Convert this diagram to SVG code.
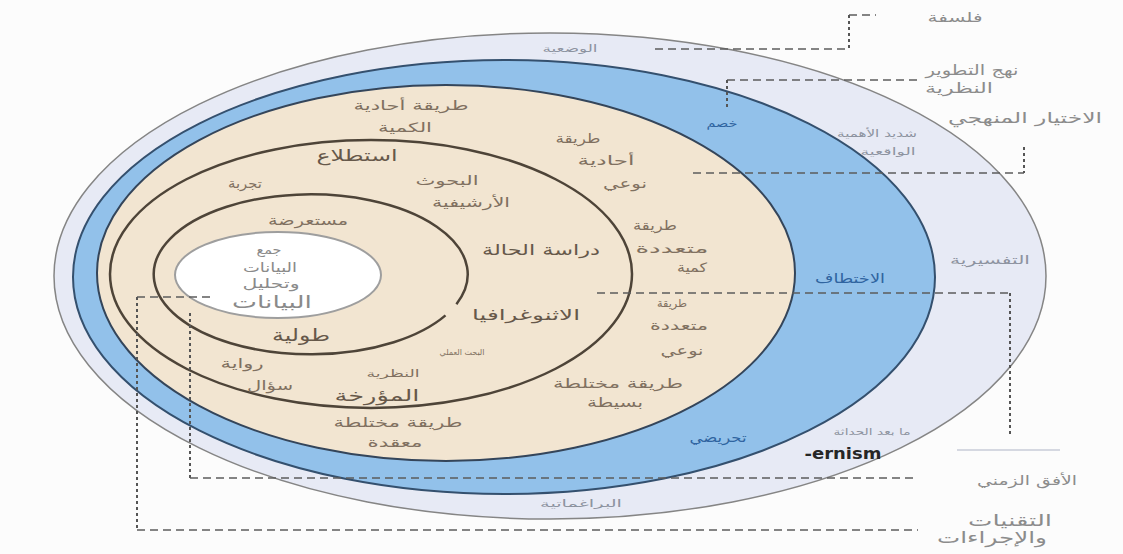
<svg xmlns="http://www.w3.org/2000/svg" width="1123" height="554" viewBox="0 0 1123 554">
  <style>
    text { font-family: "DejaVu Sans", "Noto Sans", sans-serif; text-anchor: middle; dominant-baseline: central; }
    .b  { fill: #807060; font-size: 13px; }
    .bb { fill: #66584a; font-size: 16px; }
    .c  { fill: #8a8a8a; font-size: 13px; }
    .bl { fill: #2f64a0; font-size: 13px; }
    .o  { fill: #8d93a0; font-size: 10px; }
    .r  { fill: #8c8c8c; font-size: 14px; }
    .dash { fill: none; stroke: #5c5c5c; stroke-width: 1.5; stroke-dasharray: 8 5; }
    .dot  { fill: none; stroke: #555; stroke-width: 2; stroke-dasharray: 3 3; }
  </style>

  <rect width="1123" height="554" fill="#fcfcfc"/>

  <!-- philosophies -->
  <g id="ring-philosophy">
    <ellipse cx="550" cy="276" rx="496" ry="243" fill="#e7eaf5" stroke="#858585" stroke-width="1.5"/>
  </g>

  <!-- approach to theory development -->
  <g id="ring-approach">
    <ellipse cx="504" cy="277" rx="431" ry="217" fill="#92c1ea" stroke="#34506e" stroke-width="2"/>
  </g>

  <!-- methodological choice -->
  <g id="ring-choice">
    <ellipse cx="446" cy="273" rx="349" ry="188" fill="#f2e5d1" stroke="#34455a" stroke-width="2"/>
  </g>

  <!-- strategies -->
  <g id="ring-strategy">
    <ellipse cx="371" cy="274" rx="261" ry="134" fill="none" stroke="#4e4438" stroke-width="2.5"/>
  </g>

  <!-- time horizon (open at the right) -->
  <g id="ring-time">
    <path d="M445.5,315.4 A157,80 0 1 1 456.4,304.2" fill="none" stroke="#4e4438" stroke-width="2.5"/>
  </g>

  <!-- techniques and procedures -->
  <g id="core">
    <ellipse cx="278" cy="275" rx="103" ry="43" fill="#ffffff" stroke="#9e9e9e" stroke-width="2"/>
  </g>

  <g id="connectors">
    <line class="dash" x1="849" y1="15" x2="876" y2="15"/>
    <line class="dot"  x1="849" y1="15" x2="849" y2="49"/>
    <line class="dash" x1="655" y1="49" x2="849" y2="49"/>

    <line class="dash" x1="727" y1="80" x2="918" y2="80"/>
    <line class="dot"  x1="727" y1="80" x2="727" y2="108"/>

    <line class="dash" x1="693" y1="173" x2="1024" y2="173"/>
    <line class="dot"  x1="1024" y1="147" x2="1024" y2="173"/>

    <line class="dash" x1="597" y1="293" x2="1010" y2="293"/>
    <line class="dot"  x1="1010" y1="293" x2="1010" y2="437"/>

    <line class="dash" x1="137" y1="297" x2="214" y2="297"/>
    <line class="dot"  x1="137" y1="297" x2="137" y2="530"/>
    <line class="dash" x1="137" y1="530" x2="918" y2="530"/>

    <line class="dot"  x1="190" y1="313" x2="190" y2="478"/>
    <line class="dash" x1="190" y1="478" x2="918" y2="478"/>

    <line x1="957" y1="450" x2="1060" y2="450" stroke="#c8ccd8" stroke-width="1.5"/>
  </g>

  <g id="labels-choice">
    <text class="b" x="411" y="105" textLength="115" lengthAdjust="spacingAndGlyphs">طريقة أحادية</text>
    <text class="b" x="405" y="127" textLength="54" lengthAdjust="spacingAndGlyphs">الكمية</text>
    <text class="b" x="578" y="138" textLength="45" lengthAdjust="spacingAndGlyphs">طريقة</text>
    <text class="b" x="606" y="160" textLength="57" lengthAdjust="spacingAndGlyphs">أحادية</text>
    <text class="b" x="625" y="183" textLength="44" lengthAdjust="spacingAndGlyphs">نوعي</text>
    <text class="b" x="655" y="225" textLength="44" lengthAdjust="spacingAndGlyphs">طريقة</text>
    <text class="b" x="672" y="248" textLength="73" lengthAdjust="spacingAndGlyphs">متعددة</text>
    <text class="b" x="692" y="267" textLength="30" lengthAdjust="spacingAndGlyphs">كمية</text>
    <text class="b" x="672" y="303" style="font-size:11px" textLength="30" lengthAdjust="spacingAndGlyphs">طريقة</text>
    <text class="b" x="679" y="325" textLength="58" lengthAdjust="spacingAndGlyphs">متعددة</text>
    <text class="b" x="682" y="350" textLength="43" lengthAdjust="spacingAndGlyphs">نوعي</text>
    <text class="b" x="618" y="383" textLength="130" lengthAdjust="spacingAndGlyphs">طريقة مختلطة</text>
    <text class="b" x="615" y="402" textLength="56" lengthAdjust="spacingAndGlyphs">بسيطة</text>
    <text class="b" x="398" y="422" textLength="129" lengthAdjust="spacingAndGlyphs">طريقة مختلطة</text>
    <text class="b" x="395" y="442" textLength="55" lengthAdjust="spacingAndGlyphs">معقدة</text>
  </g>

  <g id="labels-strategy">
    <text class="bb" x="357" y="155" textLength="81" lengthAdjust="spacingAndGlyphs">استطلاع</text>
    <text class="b" x="245" y="183" textLength="34" lengthAdjust="spacingAndGlyphs">تجربة</text>
    <text class="b" x="447" y="180" textLength="63" lengthAdjust="spacingAndGlyphs">البحوث</text>
    <text class="b" x="471" y="202" textLength="78" lengthAdjust="spacingAndGlyphs">الأرشيفية</text>
    <text class="bb" x="541" y="250" style="font-size:15px" textLength="118" lengthAdjust="spacingAndGlyphs">دراسة الحالة</text>
    <text class="bb" x="526" y="315" style="font-size:15px" textLength="108" lengthAdjust="spacingAndGlyphs">الاثنوغرافيا</text>
    <text class="b" x="462" y="352" style="font-size:8px" textLength="45" lengthAdjust="spacingAndGlyphs">البحث العملي</text>
    <text class="b" x="242" y="363" textLength="43" lengthAdjust="spacingAndGlyphs">رواية</text>
    <text class="b" x="270" y="385" textLength="46" lengthAdjust="spacingAndGlyphs">سؤال</text>
    <text class="b" x="393" y="373" style="font-size:10px" textLength="53" lengthAdjust="spacingAndGlyphs">النظرية</text>
    <text class="bb" x="377" y="395" textLength="85" lengthAdjust="spacingAndGlyphs">المؤرخة</text>
  </g>

  <g id="labels-time">
    <text class="b" x="308" y="220" textLength="80" lengthAdjust="spacingAndGlyphs">مستعرضة</text>
    <text class="bb" x="301" y="335" style="font-size:17px" textLength="58" lengthAdjust="spacingAndGlyphs">طولية</text>
  </g>

  <g id="labels-core">
    <text class="c" x="269" y="250" style="font-size:12px" textLength="25" lengthAdjust="spacingAndGlyphs">جمع</text>
    <text class="c" x="270" y="267" textLength="54" lengthAdjust="spacingAndGlyphs">البيانات</text>
    <text class="c" x="271" y="283" textLength="57" lengthAdjust="spacingAndGlyphs">وتحليل</text>
    <text class="c" x="272" y="302" style="font-size:17px" textLength="80" lengthAdjust="spacingAndGlyphs">البيانات</text>
  </g>

  <g id="labels-approach">
    <text class="bl" x="722" y="123" style="font-size:11px" textLength="31" lengthAdjust="spacingAndGlyphs">خصم</text>
    <text class="bl" x="850" y="278" textLength="70" lengthAdjust="spacingAndGlyphs">الاختطاف</text>
    <text class="bl" x="718" y="437" textLength="57" lengthAdjust="spacingAndGlyphs">تحريضي</text>
  </g>

  <g id="labels-philosophy">
    <text class="o" x="570" y="48" textLength="55" lengthAdjust="spacingAndGlyphs">الوضعية</text>
    <text class="o" x="877" y="133" textLength="80" lengthAdjust="spacingAndGlyphs">شديد الأهمية</text>
    <text class="o" x="888" y="151" textLength="55" lengthAdjust="spacingAndGlyphs">الواقعية</text>
    <text class="o" x="990" y="260" style="font-size:12px" textLength="80" lengthAdjust="spacingAndGlyphs">التفسيرية</text>
    <text class="o" x="872" y="432" style="font-size:9px" textLength="77" lengthAdjust="spacingAndGlyphs">ما بعد الحداثة</text>
    <text x="843" y="454" style="fill:#262626;font-size:15px;font-weight:bold" textLength="77" lengthAdjust="spacingAndGlyphs">-ernism</text>
    <text class="o" x="581" y="503" textLength="82" lengthAdjust="spacingAndGlyphs">البراغماتية</text>
  </g>

  <g id="labels-layers">
    <text class="r" x="955" y="17" style="font-size:13px" textLength="55" lengthAdjust="spacingAndGlyphs">فلسفة</text>
    <text class="r" x="972" y="70" textLength="93" lengthAdjust="spacingAndGlyphs">نهج التطوير</text>
    <text class="r" x="959" y="88" textLength="68" lengthAdjust="spacingAndGlyphs">النظرية</text>
    <text class="r" x="1025" y="118" style="font-size:15px" textLength="154" lengthAdjust="spacingAndGlyphs">الاختيار المنهجي</text>
    <text class="r" x="1027" y="480" style="font-size:13px" textLength="100" lengthAdjust="spacingAndGlyphs">الأفق الزمني</text>
    <text class="r" x="1010" y="520" style="font-size:16px" textLength="84" lengthAdjust="spacingAndGlyphs">التقنيات</text>
    <text class="r" x="992" y="537" style="font-size:16px" textLength="110" lengthAdjust="spacingAndGlyphs">والإجراءات</text>
  </g>
</svg>
